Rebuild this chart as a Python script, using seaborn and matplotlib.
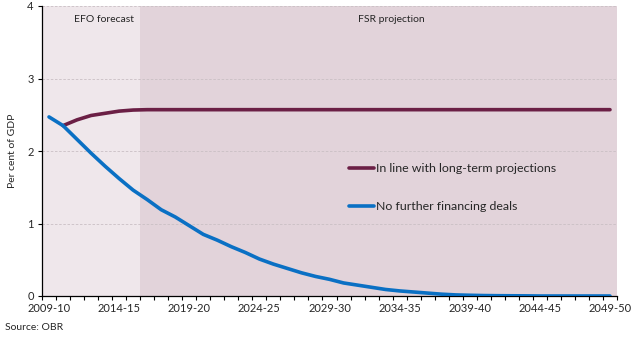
import matplotlib
matplotlib.use("Agg")
import matplotlib.pyplot as plt
import seaborn as sns
import pandas as pd
import numpy as np

# Financial years 2009-10 to 2049-50
years = [f"{y}-{str(y + 1)[-2:]}" for y in range(2009, 2050)]
tick_labels = ["2009-10", "2014-15", "2019-20", "2024-25", "2029-30",
               "2034-35", "2039-40", "2044-45", "2049-50"]

# Per cent of GDP
long_term = [np.nan, 2.35, 2.43, 2.49, 2.52, 2.55, 2.565] + [2.57] * 34
no_deals = [2.47, 2.35, 2.16, 1.97, 1.79, 1.62, 1.46, 1.33, 1.19, 1.09,
            0.97, 0.85, 0.77, 0.68, 0.60, 0.51, 0.44, 0.38, 0.32, 0.27,
            0.23, 0.18, 0.15, 0.12, 0.09, 0.07, 0.055, 0.04, 0.025, 0.015,
            0.01, 0.006, 0.004, 0.003, 0.002, 0.0, 0.0, 0.0, 0.0, 0.0, 0.0]

efo_end = "2015-16"

df = pd.DataFrame({
    "year": years * 2,
    "idx": list(range(len(years))) * 2,
    "value": long_term + no_deals,
    "series": ["In line with long-term projections"] * len(years)
              + ["No further financing deals"] * len(years),
})

sns.set_theme(style="white")
plt.rcParams["font.family"] = ["Lato", "DejaVu Sans"]

purple = "#6b1f45"
blue = "#0a70c4"

fig = plt.figure(figsize=(6.35, 3.38), dpi=100)
ax = fig.add_axes([42 / 635, 42 / 338, 575 / 635, 290 / 338])

split = years.index(efo_end) + 0.5
ax.axvspan(-0.5, split, color="#efe7eb", zorder=0, lw=0)
ax.axvspan(split, len(years) - 0.5, color="#e2d3da", zorder=0, lw=0)

for y in [1, 2, 3, 4]:
    ax.axhline(y, color="#c9bfc4", lw=0.6, ls=(0, (3, 2)), zorder=1)

sns.lineplot(data=df, x="idx", y="value", hue="series",
             palette=[purple, blue], linewidth=2.6, ax=ax, zorder=3)

ax.set_xlim(-0.5, len(years) - 0.5)
ax.set_ylim(0, 4)
ax.set_yticks([0, 1, 2, 3, 4])
ax.set_yticklabels(["0", "1", "2", "3", "4"], fontsize=8)
ax.set_xticks([years.index(t) for t in tick_labels])
ax.set_xticklabels(tick_labels, fontsize=8)
ax.set_xticks(np.arange(-0.5, len(years), 1), minor=True)
ax.tick_params(axis="x", which="major", length=0, pad=5)
ax.tick_params(axis="x", which="minor", length=3, width=0.8, color="black", direction="out", bottom=True)
ax.tick_params(axis="y", length=3, width=0.8, color="black", direction="out", left=True, pad=3)
ax.set_xlabel("")
ax.set_ylabel("Per cent of GDP", fontsize=7.5, labelpad=7)

for side in ["top", "right"]:
    ax.spines[side].set_visible(False)
for side in ["left", "bottom"]:
    ax.spines[side].set_color("black")
    ax.spines[side].set_linewidth(0.9)

ax.text(3.9, 3.82, "EFO forecast", fontsize=7.5, ha="center", va="center")
ax.text(22.0, 3.82, "FSR projection", fontsize=7.5, ha="left", va="center")

leg = ax.legend(loc="upper left", bbox_to_anchor=(296 / 575, 0.497), frameon=False,
                fontsize=8.9, handlelength=2.0, handletextpad=0.2, labelspacing=2.2)

fig.text(5 / 635, 1 - 327 / 338, "Source: OBR", fontsize=7.5, ha="left", va="center")

fig.savefig("out.png", dpi=100)
